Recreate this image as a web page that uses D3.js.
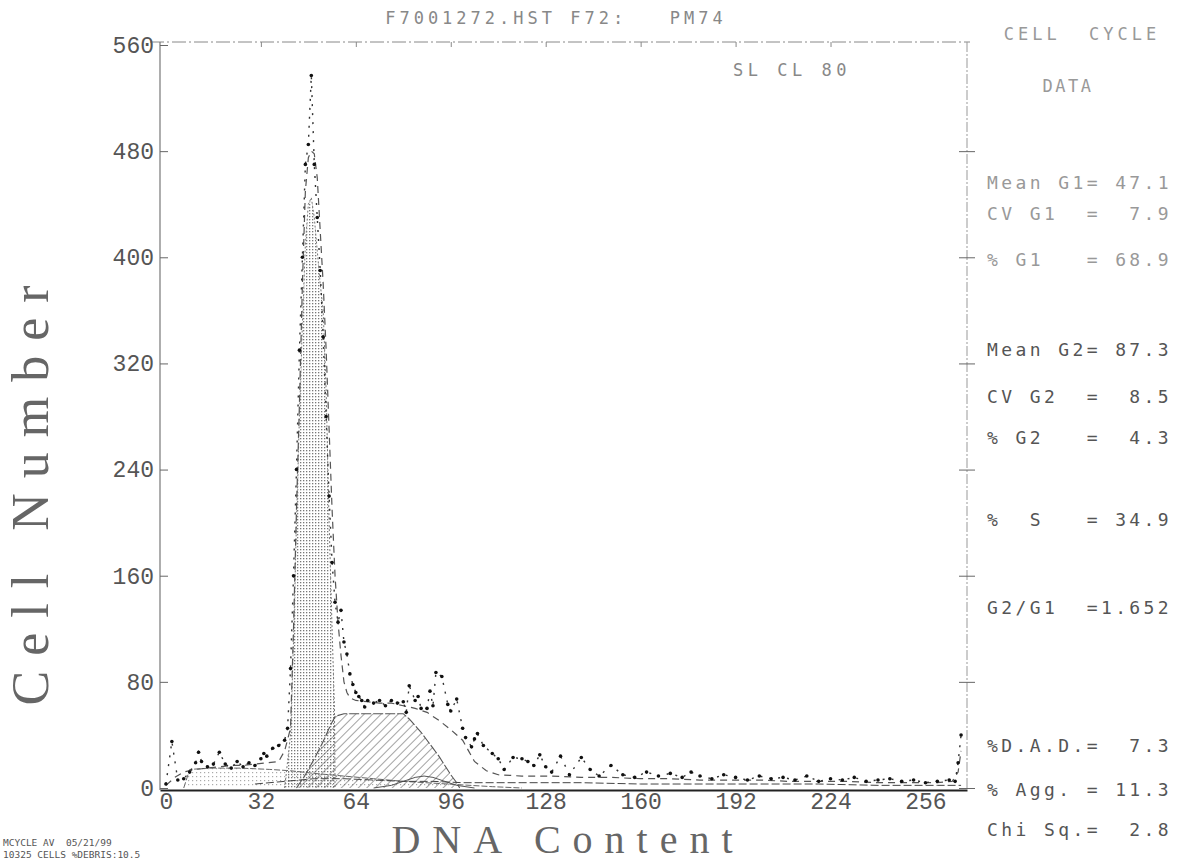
<!DOCTYPE html>
<html lang="en">
<head>
<meta charset="UTF-8">
<title>Cell Cycle DNA Histogram</title>
<script src="https://d3js.org/d3.v7.min.js"></script>
<style>
  body { margin: 0; background: #fff; }
  .mono { font-family: "DejaVu Sans Mono", "Liberation Mono", monospace; white-space: pre; }
  .tick text { font-family: "Liberation Mono", "DejaVu Sans Mono", monospace; font-size: 23px; fill: #555; }
  .axtitle { font-family: "Liberation Serif", "DejaVu Serif", serif; fill: #666; }
</style>
</head>
<body>
<svg width="1180" height="864"></svg>
<script>
// axis ticks
const xTicks = [0, 32, 64, 96, 128, 160, 192, 224, 256];
const yTicks = [0, 80, 160, 240, 320, 400, 480, 560];

// raw histogram counts (dots)
const rawCh = [0, 2, 4, 6, 8, 10, 11, 12, 14, 16, 18, 20, 22, 24, 26, 28, 30, 32, 33, 34, 36, 38, 40,
  41, 42, 43, 44, 45, 46, 47, 48, 49, 50, 51, 52, 53, 54, 55, 56, 57, 58, 59, 60, 61, 62, 63, 64, 65,
  66, 67, 68, 70, 72, 74, 76, 78, 80, 81, 82, 84, 85, 86, 88, 89, 90, 91, 93, 95, 96, 98, 100, 101, 103,
  104, 105, 107, 110, 112, 114, 117, 120, 122, 124, 126, 128, 130, 133, 136, 140, 143, 146, 150, 154,
  158, 162, 166, 170, 174, 177, 180, 184, 188, 192, 196, 200, 204, 208, 212, 216, 220, 224, 228, 232,
  236, 240, 244, 248, 252, 256, 260, 264, 266, 267, 268];
const rawCount = [3, 35, 6, 7, 12, 19, 27, 20, 16, 18, 27, 18, 15, 20, 16, 19, 17, 22, 26, 24, 30, 32, 36,
  45, 90, 160, 240, 330, 400, 470, 485, 537, 470, 430, 390, 340, 280, 220, 170, 140, 125, 134, 110, 101, 86, 78, 72, 69,
  66, 61, 66, 64, 66, 62, 66, 64, 65, 57, 77, 66, 69, 60, 60, 73, 62, 87, 84, 63, 58, 67, 45, 38, 31,
  37, 41, 32, 26, 22, 14, 23, 22, 20, 17, 25, 16, 12, 24, 10, 23, 14, 9, 17, 10,
  8, 12, 9, 11, 8, 12, 9, 7, 10, 8, 6, 9, 7, 8, 6, 9, 5, 7, 6, 8,
  5, 6, 7, 5, 6, 4, 5, 6, 5, 19, 40];

// fitted model (dashed)
const fitCh = [0, 3, 6, 10, 14, 18, 22, 26, 30, 34, 38, 40, 42, 43, 44, 45, 46, 47, 48, 49, 50, 51, 52, 53,
  54, 55, 56, 57, 58, 59, 60, 61, 62, 64, 68, 72, 76, 80, 84, 88, 92, 96, 100, 102, 104, 108, 112,
  120, 130, 140, 150, 160, 170, 180, 190, 200, 210, 220, 230, 240, 250, 260, 265, 267, 268];
const fitCount = [2, 8, 12, 14, 15, 16, 17, 17, 18, 19, 20, 28, 45, 120, 210, 290, 380, 450, 475, 480, 478, 460, 420, 380,
  330, 270, 210, 160, 125, 100, 80, 72, 68, 66, 65, 64, 64, 62, 60, 57, 51, 44, 36, 28, 20, 13, 10,
  9, 9, 8, 8, 7, 7, 6, 6, 6, 5, 5, 5, 4, 4, 4, 5, 12, 28];

// G1 component (stippled)
const g1Ch = [40, 41, 42, 43, 44, 45, 46, 47, 48, 49, 50, 51, 52, 53, 54, 55, 56, 56.8, 57];
const g1Count = [0, 20, 40, 110, 200, 280, 350, 410, 440, 445, 430, 405, 380, 360, 300, 200, 120, 60, 0];

// S phase component (hatched)
const sCh = [44, 47, 50, 53, 55, 57, 60, 70, 80, 82, 84, 86, 88, 90, 92, 94, 96, 98, 99];
const sCount = [0, 10, 22, 35, 45, 54, 56, 56, 56, 52, 47, 42, 36, 30, 24, 17, 10, 4, 0];

// G2 component
const g2Ch = [70, 76, 80, 84, 87, 90, 94, 98, 104];
const g2Count = [0, 2, 5, 8, 9, 8, 5, 2, 0];

// debris component (light stipple)
const debCh = [6, 8, 15, 25, 35, 42, 50, 60, 70, 80, 95, 110, 120];
const debCount = [0, 14, 15, 15, 14, 13, 11, 9, 7, 5, 3, 1, 0];

// aggregates component
const aggCh = [30, 40, 50, 60, 70, 80, 90, 100, 120, 140, 160, 180, 200, 220, 240, 260, 268];
const aggCount = [3, 5, 7, 7, 6, 5, 5, 4, 4, 4, 3, 3, 3, 3, 2, 2, 2];

// side panel text
const headLines = ["CELL  CYCLE", "DATA"];
const statLines = ["Mean G1= 47.1", "CV G1  =  7.9", "% G1   = 68.9", "Mean G2= 87.3", "CV G2  =  8.5",
  "% G2   =  4.3", "%  S   = 34.9", "G2/G1  =1.652", "%D.A.D.=  7.3", "% Agg. = 11.3", "Chi Sq.=  2.8"];
const statY = [183, 214, 260, 350, 397, 438, 520, 608, 746, 790, 830];

const svg = d3.select("svg");
const x = d3.scaleLinear().domain([-2, 270]).range([160, 967]);
const y = d3.scaleLinear().domain([0, 560]).range([788, 45]);

const defs = svg.append("defs");
const stip = defs.append("pattern").attr("id", "stip").attr("width", 3).attr("height", 3)
  .attr("patternUnits", "userSpaceOnUse");
stip.append("rect").attr("width", 1.3).attr("height", 1.3).attr("fill", "#777");
const stip2 = defs.append("pattern").attr("id", "stip2").attr("width", 4).attr("height", 4)
  .attr("patternUnits", "userSpaceOnUse");
stip2.append("rect").attr("width", 1.2).attr("height", 1.2).attr("fill", "#aaa");
const hatch = defs.append("pattern").attr("id", "hatch").attr("width", 6).attr("height", 6)
  .attr("patternUnits", "userSpaceOnUse").attr("patternTransform", "rotate(45)");
hatch.append("line").attr("x1", 0).attr("y1", 0).attr("x2", 0).attr("y2", 6)
  .attr("stroke", "#555").attr("stroke-width", 1.1);

const pairs = (a, b) => a.map((v, i) => [v, b[i]]);
const line = d3.line().x(d => x(d[0])).y(d => y(d[1]));
const area = d3.area().x(d => x(d[0])).y0(y(0)).y1(d => y(d[1]));

// frame
svg.append("line").attr("x1", 150).attr("x2", 970).attr("y1", 42).attr("y2", 42)
  .attr("stroke", "#888").attr("stroke-dasharray", "14,3,2,3");
svg.append("line").attr("x1", 160).attr("x2", 160).attr("y1", 42).attr("y2", 790)
  .attr("stroke", "#777").attr("stroke-width", 1.2);
svg.append("line").attr("x1", 967).attr("x2", 967).attr("y1", 42).attr("y2", 790)
  .attr("stroke", "#999").attr("stroke-dasharray", "10,2,2,2");

// components
svg.append("path").datum(pairs(debCh, debCount)).attr("d", area).attr("fill", "url(#stip2)");
svg.append("path").datum(pairs(debCh, debCount)).attr("d", line).attr("fill", "none")
  .attr("stroke", "#666").attr("stroke-dasharray", "6,2");
svg.append("path").datum(pairs(g1Ch, g1Count)).attr("d", area).attr("fill", "url(#stip)");
svg.append("path").datum(pairs(g1Ch, g1Count)).attr("d", line).attr("fill", "none")
  .attr("stroke", "#777").attr("stroke-dasharray", "2,2");
svg.append("path").datum(pairs(sCh, sCount)).attr("d", area).attr("fill", "url(#hatch)");
svg.append("path").datum(pairs(sCh, sCount)).attr("d", line).attr("fill", "none")
  .attr("stroke", "#555").attr("stroke-width", 1.1).attr("stroke-dasharray", "10,2");
svg.append("path").datum(pairs(g2Ch, g2Count)).attr("d", line).attr("fill", "none")
  .attr("stroke", "#555");
svg.append("path").datum(pairs(aggCh, aggCount)).attr("d", line).attr("fill", "none")
  .attr("stroke", "#444").attr("stroke-dasharray", "8,3");

// fitted model
svg.append("path").datum(pairs(fitCh, fitCount)).attr("d", line).attr("fill", "none")
  .attr("stroke", "#555").attr("stroke-width", 1.2).attr("stroke-dasharray", "7,5");

// raw data
svg.append("path").datum(pairs(rawCh, rawCount)).attr("d", line).attr("fill", "none")
  .attr("stroke", "#333").attr("stroke-width", 1.4).attr("stroke-dasharray", "2,7");
svg.append("g").selectAll("circle").data(pairs(rawCh, rawCount)).join("circle")
  .attr("cx", d => x(d[0])).attr("cy", d => y(d[1])).attr("r", 1.8).attr("fill", "#111");

// axes
const xAxis = svg.append("g").attr("transform", "translate(0,790)")
  .call(d3.axisBottom(x).tickValues(xTicks).tickSize(0).tickPadding(3));
xAxis.select(".domain").attr("stroke", "#222").attr("stroke-width", 2);
xAxis.selectAll(".tick text").attr("font-size", 25);
const yAxis = svg.append("g").attr("transform", "translate(160,0)")
  .call(d3.axisLeft(y).tickValues(yTicks).tickSize(-8).tickPadding(6));
yAxis.select(".domain").remove();
yAxis.selectAll("line").attr("stroke", "#666");
const rAxis = svg.append("g").attr("transform", "translate(967,0)")
  .call(d3.axisRight(y).tickValues(yTicks.slice(0, 7)).tickSize(8).tickFormat(""));
rAxis.select(".domain").remove();
rAxis.selectAll("line").attr("x1", -8).attr("stroke", "#666");
const tAxis = svg.append("g").attr("transform", "translate(0,42)")
  .call(d3.axisTop(x).tickValues(xTicks.slice(1, 8)).tickSize(-5).tickFormat(""));
tAxis.select(".domain").remove();
tAxis.selectAll("line").attr("stroke", "#888");

// titles
svg.append("text").attr("class", "mono").attr("x", 556).attr("y", 24).attr("text-anchor", "middle")
  .attr("font-size", 17).attr("letter-spacing", 4).attr("fill", "#888").text("F7001272.HST F72:   PM74");
svg.append("text").attr("class", "mono").attr("x", 792).attr("y", 76).attr("text-anchor", "middle")
  .attr("font-size", 17).attr("letter-spacing", 4.5).attr("fill", "#888").text("SL CL 80");
svg.append("text").attr("class", "axtitle").attr("transform", "translate(48,488) rotate(-90)")
  .attr("text-anchor", "middle").attr("font-size", 52).attr("letter-spacing", 15).text("Cell Number");
svg.append("text").attr("class", "axtitle").attr("x", 568).attr("y", 853)
  .attr("text-anchor", "middle").attr("font-size", 40).attr("letter-spacing", 12).text("DNA Content");

// side panel
svg.append("g").selectAll("text").data(headLines).join("text").attr("class", "mono")
  .attr("x", (d, i) => i ? 1068 : 1082).attr("y", (d, i) => i ? 92 : 40).attr("text-anchor", "middle")
  .attr("font-size", 17).attr("letter-spacing", (d, i) => i ? 2.5 : 4).attr("fill", "#999").text(d => d);
svg.append("g").selectAll("text").data(statLines).join("text").attr("class", "mono")
  .attr("x", 987).attr("y", (d, i) => statY[i] + 6).attr("font-size", 18).attr("letter-spacing", 3.4)
  .attr("fill", (d, i) => i < 3 ? "#999" : "#555").text(d => d);

// footer
const foot = ["MCYCLE AV  05/21/99", "10325 CELLS %DEBRIS:10.5"];
svg.append("g").selectAll("text").data(foot).join("text").attr("class", "mono")
  .attr("x", 3).attr("y", (d, i) => 846 + i * 12).attr("font-size", 9.5).attr("fill", "#555")
  .text(d => d);
</script>
</body>
</html>
